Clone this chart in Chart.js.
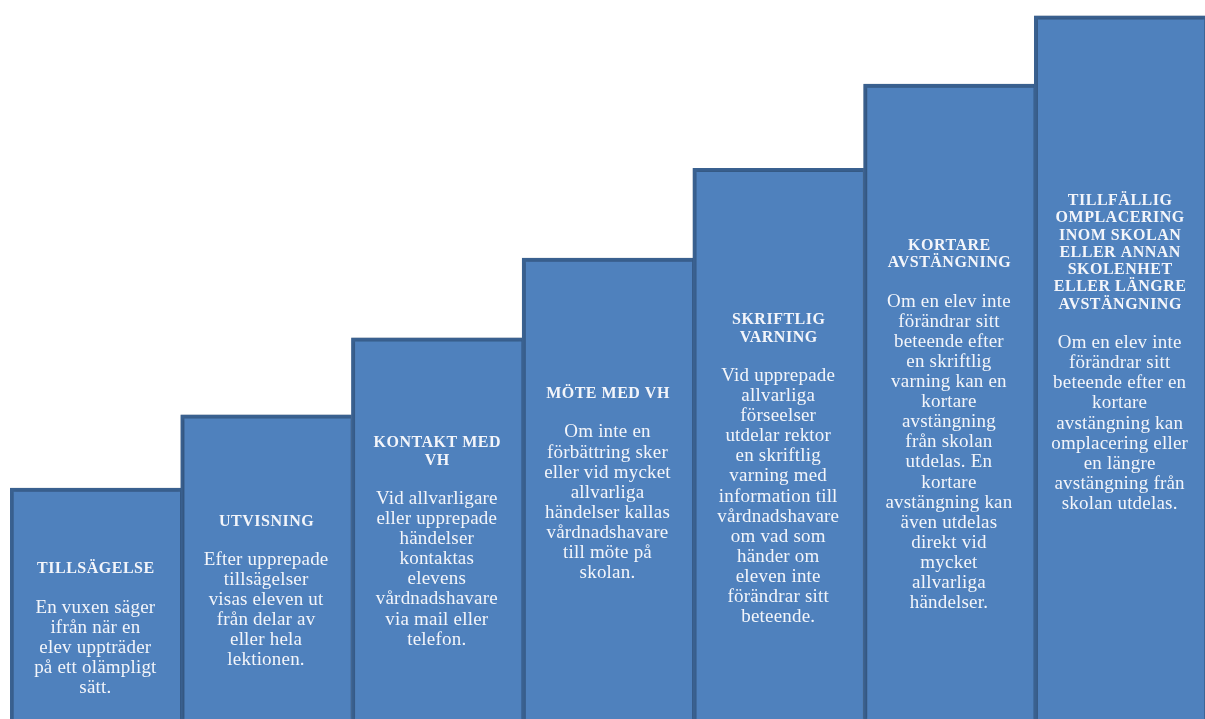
<!DOCTYPE html>
<html>
<head>
<meta charset="utf-8">
<script src="https://cdn.jsdelivr.net/npm/chart.js@4"></script>
<style>
  html, body { margin: 0; padding: 0; background: #ffffff; overflow: hidden; }
  #wrap { width: 1205px; height: 719px; position: relative; }
</style>
</head>
<body>
<div id="wrap"><canvas id="c"></canvas></div>
<script>
// ---- data ----
const categories = [
  "TILLSÄGELSE",
  "UTVISNING",
  "KONTAKT MED VH",
  "MÖTE MED VH",
  "SKRIFTLIG VARNING",
  "KORTARE AVSTÄNGNING",
  "TILLFÄLLIG OMPLACERING INOM SKOLAN ELLER ANNAN SKOLENHET ELLER LÄNGRE AVSTÄNGNING"
];
// step heights (share of the picture height, %)
const levels = [32.1, 42.3, 53.0, 64.1, 76.6, 88.3, 97.8];

const titleLines = [
  ["TILLSÄGELSE"],
  ["UTVISNING"],
  ["KONTAKT MED", "VH"],
  ["MÖTE MED VH"],
  ["SKRIFTLIG", "VARNING"],
  ["KORTARE", "AVSTÄNGNING"],
  ["TILLFÄLLIG", "OMPLACERING", "INOM SKOLAN", "ELLER ANNAN", "SKOLENHET", "ELLER LÄNGRE", "AVSTÄNGNING"]
];
const bodyLines = [
  ["En vuxen säger", "ifrån när en", "elev uppträder", "på ett olämpligt", "sätt."],
  ["Efter upprepade", "tillsägelser", "visas eleven ut", "från delar av", "eller hela", "lektionen."],
  ["Vid allvarligare", "eller upprepade", "händelser", "kontaktas", "elevens", "vårdnadshavare", "via mail eller", "telefon."],
  ["Om inte en", "förbättring sker", "eller vid mycket", "allvarliga", "händelser kallas", "vårdnadshavare", "till möte på", "skolan."],
  ["Vid upprepade", "allvarliga", "förseelser", "utdelar rektor", "en skriftlig", "varning med", "information till", "vårdnadshavare", "om vad som", "händer om", "eleven inte", "förändrar sitt", "beteende."],
  ["Om en elev inte", "förändrar sitt", "beteende efter", "en skriftlig", "varning kan en", "kortare", "avstängning", "från skolan", "utdelas. En", "kortare", "avstängning kan", "även utdelas", "direkt vid", "mycket", "allvarliga", "händelser."],
  ["Om en elev inte", "förändrar sitt", "beteende efter en", "kortare", "avstängning kan", "omplacering eller", "en längre", "avstängning från", "skolan utdelas."]
];

// ---- soft shadow around the steps ----
const stepShadow = {
  id: 'stepShadow',
  beforeDatasetsDraw(chart) {
    const ctx = chart.ctx;
    ctx.save();
    ctx.shadowColor = 'rgba(0,0,0,0.28)';
    ctx.shadowBlur = 3;
    ctx.shadowOffsetX = 0;
    ctx.shadowOffsetY = 0;
  },
  afterDatasetsDraw(chart) {
    chart.ctx.restore();
  }
};

// ---- text inside each step ----
const stepText = {
  id: 'stepText',
  afterDatasetsDraw(chart, args, opts) {
    const ctx = chart.ctx;
    const meta = chart.getDatasetMeta(0);
    const area = chart.chartArea;
    const titleLH = 17.3, bodyLH = 20.1, gap = 38.5;
    meta.data.forEach((bar, i) => {
      const t = titleLines[i], b = bodyLines[i];
      const blockH = (t.length - 1) * titleLH + gap + (b.length - 1) * bodyLH;
      const mid = (bar.y + area.bottom + 50) / 2 + (opts.shift[i] || 0);
      let y = mid - blockH / 2;
      ctx.save();
      ctx.fillStyle = '#f3f5fa';
      ctx.textAlign = 'center';
      ctx.textBaseline = 'middle';
      ctx.font = 'bold 16px "Liberation Serif", "Times New Roman", serif';
      ctx.letterSpacing = '0.5px';
      t.forEach((line, k) => {
        ctx.fillText(line, bar.x + 0.5, y + k * titleLH);
      });
      y += (t.length - 1) * titleLH + gap;
      ctx.font = '19px "Liberation Serif", "Times New Roman", serif';
      ctx.letterSpacing = '0.2px';
      b.forEach((line, k) => {
        ctx.fillText(line, bar.x, y + k * bodyLH);
      });
      ctx.restore();
    });
  }
};

new Chart(document.getElementById('c'), {
  type: 'bar',
  data: {
    labels: categories,
    datasets: [{
      data: levels,
      backgroundColor: '#4f81bd',
      borderColor: '#3a6190',
      borderWidth: { top: 4, left: 4, right: 1, bottom: 0 },
      borderSkipped: 'start',
      categoryPercentage: 1.0,
      barPercentage: 1.0
    }]
  },
  options: {
    responsive: true,
    maintainAspectRatio: false,
    animation: false,
    devicePixelRatio: 1,
    layout: { padding: { left: 10, right: 0, top: 0, bottom: 0 } },
    scales: {
      x: { display: false },
      y: { display: false, min: 0, max: 100 }
    },
    plugins: {
      legend: { display: false },
      tooltip: { enabled: false },
      stepText: { shift: [0, -1, -12, -30, 0, -2, -40] }
    }
  },
  plugins: [stepShadow, stepText]
});
</script>
</body>
</html>
